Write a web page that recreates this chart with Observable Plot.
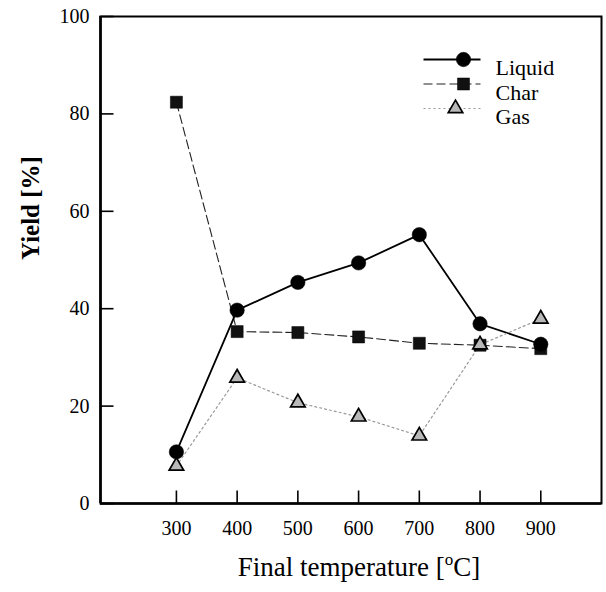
<!DOCTYPE html>
<html>
<head>
<meta charset="utf-8">
<script src="https://cdn.jsdelivr.net/npm/d3@7"></script>
<script src="https://cdn.jsdelivr.net/npm/@observablehq/plot@0.6"></script>
<style>
  html, body { margin: 0; padding: 0; background: #fff; }
</style>
</head>
<body>
<div id="chart"></div>
<script>
// ---- data ----
const temps = [300, 400, 500, 600, 700, 800, 900];
const liquid = [10.6, 39.7, 45.4, 49.4, 55.2, 36.9, 32.7];
const charY = [82.4, 35.3, 35.1, 34.2, 32.9, 32.5, 31.8];
const gas = [7.7, 25.8, 20.7, 17.8, 13.9, 32.6, 37.9];
const seriesNames = ["Liquid", "Char", "Gas"];
const xTicks = [300, 400, 500, 600, 700, 800, 900];
const yTicks = [0, 20, 40, 60, 80, 100];
const xDomain = [175, 1000];
const yDomain = [0, 100];
const xLabel = "Final temperature [oC]";
const yLabel = "Yield [%]";

const rows = temps.map((t, i) => ({t, liquid: liquid[i], char: charY[i], gas: gas[i]}));

// ---- styles ----
const styles = {
  Liquid: {key: "liquid", line: {stroke: "#000", strokeWidth: 1.8}, dot: {symbol: "circle", r: 7.2, fill: "#000", stroke: "#000", strokeWidth: 0.5}},
  Char: {key: "char", line: {stroke: "#222", strokeWidth: 1.1, strokeDasharray: "9,4"}, dot: {symbol: "square", r: 6.8, fill: "#111", stroke: "#000", strokeWidth: 0.5}},
  Gas: {key: "gas", line: {stroke: "#999", strokeWidth: 1.2, strokeDasharray: "2,3"}, dot: {symbol: "triangle", r: 5.4, fill: "#b8b8b8", stroke: "#000", strokeWidth: 1.7}}
};

const hTick = {draw(ctx) { ctx.moveTo(0, 0); ctx.lineTo(13, 0); }};
const vTick = {draw(ctx) { ctx.moveTo(0, 0); ctx.lineTo(0, -13); }};
const seg = {draw(ctx) { ctx.moveTo(-40, 0); ctx.lineTo(17, 0); }};

const drawOrder = ["Char", "Liquid", "Gas"];

const legendMarks = seriesNames.flatMap((name, i) => {
  const s = styles[name];
  const dy = 43 + i * 24.5;
  return [
    Plot.dot([name], {frameAnchor: "top-left", dx: 363, dy, symbol: seg, fill: "none", ...s.line}),
    Plot.dot([name], {frameAnchor: "top-left", dx: name === "Gas" ? 355 : 363, dy, ...s.dot}),
    Plot.text([name], {frameAnchor: "top-left", dx: 395, dy, text: d => d, textAnchor: "start", fontSize: 22, fill: "#000"})
  ];
});

const chart = Plot.plot({
  width: 606,
  height: 592,
  marginLeft: 100,
  marginRight: 5,
  marginTop: 16,
  marginBottom: 89,
  style: {fontFamily: "'Liberation Serif', 'Times New Roman', serif", color: "#000", background: "#fff"},
  x: {domain: xDomain},
  y: {domain: yDomain},
  marks: [
    Plot.frame({stroke: "#000", strokeWidth: 2}),
    Plot.ruleX([xDomain[0]], {stroke: "#000", strokeWidth: 2.6}),
    Plot.ruleY([yDomain[0]], {stroke: "#000", strokeWidth: 2.6}),
    Plot.dot(yTicks, {y: d => d, frameAnchor: "left", symbol: hTick, fill: "none", stroke: "#000", strokeWidth: 1.6}),
    Plot.dot(xTicks, {x: d => d, frameAnchor: "bottom", symbol: vTick, fill: "none", stroke: "#000", strokeWidth: 1.6}),
    Plot.axisY({ticks: yTicks, tickSize: 0, tickPadding: 11, fontSize: 20, label: null, tickFormat: d => String(d)}),
    Plot.axisX({ticks: xTicks, tickSize: 0, tickPadding: 17, fontSize: 20, label: null, tickFormat: d => String(d)}),
    ...drawOrder.map(n => Plot.line(rows, {x: "t", y: styles[n].key, ...styles[n].line})),
    ...drawOrder.map(n => Plot.dot(rows, {x: "t", y: styles[n].key, ...styles[n].dot})),
    ...legendMarks,
    Plot.text([xLabel], {frameAnchor: "bottom", dx: 8, dy: 72, fontSize: 27, fill: "#000"}),
    Plot.text([yLabel], {frameAnchor: "left", dx: -70, rotate: -90, fontSize: 25, fontWeight: "bold", fill: "#000"})
  ]
});

document.getElementById("chart").appendChild(chart);

// superscript degree "o" in the x label
d3.select(chart).selectAll("text").filter(function () { return this.textContent === xLabel; })
  .each(function () {
    const t = d3.select(this);
    t.text(null);
    t.append("tspan").text("Final temperature [");
    t.append("tspan").attr("dy", -11).attr("font-size", 17).text("o");
    t.append("tspan").attr("dy", 11).text("C]");
  });
</script>
</body>
</html>
